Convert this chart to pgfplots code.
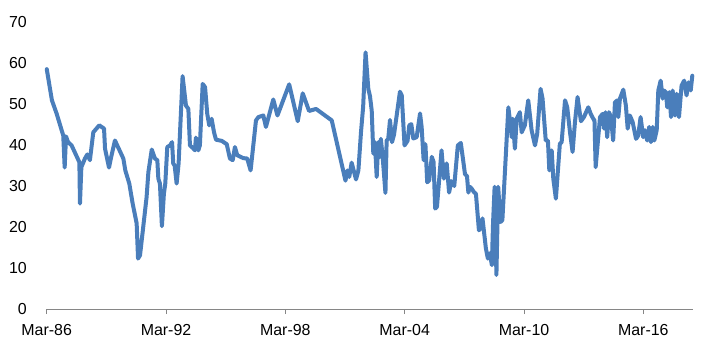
\documentclass[border=0pt]{standalone}
\usepackage{pgfplots}
\pgfplotsset{compat=1.18}
\usepackage{fontspec}
\setmainfont{Liberation Sans}
\definecolor{lineblue}{RGB}{74,126,187}
\definecolor{axgray}{RGB}{134,134,134}
\begin{document}
\begin{tikzpicture}
\begin{axis}[
  scale only axis,
  width=646.6bp, height=287bp,
  xmin=1986.167, xmax=2018.68,
  ymin=0, ymax=70,
  axis lines*=left,
  axis line style={-},
  x axis line style={axgray, line width=1bp},
  y axis line style={draw=none},
  ytick={0,10,...,70},
  xtick={1986.167,1992.167,1998.167,2004.167,2010.167,2016.167},
  xticklabels={Mar-86,Mar-92,Mar-98,Mar-04,Mar-10,Mar-16},
  ytick style={draw=none},
  xtick style={axgray, line width=1bp},
  tick align=outside,
  major tick length=5bp,
  /pgf/number format/assume math mode=true,
  tick label style={font=\fontsize{16}{19}\selectfont, text=black},
  y tick label style={inner sep=0pt, xshift=-14.7bp},
  x tick label style={inner sep=0pt, yshift=-10bp},
  clip=false,
]
\addplot[lineblue, line width=4bp, line join=round, line cap=round] coordinates {
(1986.17,58.5)(1986.43,50.9)(1986.67,47.6)(1987.00,42.3)(1987.07,34.5)(1987.14,42.1)
(1987.24,40.7)(1987.42,39.9)(1987.81,35.8)(1987.84,25.7)(1987.91,34.6)(1988.09,36.7)
(1988.21,37.7)(1988.34,36.3)(1988.51,43.1)(1988.81,44.8)(1989.05,44.0)(1989.10,39.1)
(1989.30,34.5)(1989.41,37.1)(1989.60,41.1)(1990.02,36.7)(1990.12,33.8)(1990.32,30.6)
(1990.49,25.7)(1990.69,20.9)(1990.76,12.3)(1990.86,13.1)(1991.19,27.3)(1991.28,33.4)
(1991.45,38.9)(1991.61,36.7)(1991.73,36.3)(1991.78,31.8)(1991.86,30.6)(1991.96,20.2)
(1992.06,28.1)(1992.13,30.6)(1992.23,39.5)(1992.37,39.9)(1992.47,40.7)(1992.53,35.5)
(1992.60,35.0)(1992.70,30.6)(1992.80,35.5)(1993.00,56.8)(1993.17,49.6)(1993.29,48.8)
(1993.37,39.9)(1993.51,39.3)(1993.62,38.7)(1993.67,41.8)(1993.79,38.7)(1993.87,39.9)
(1994.01,54.9)(1994.13,54.1)(1994.24,47.6)(1994.34,44.8)(1994.46,46.4)(1994.58,43.1)
(1994.68,41.3)(1994.97,41.0)(1995.22,40.2)(1995.38,36.7)(1995.52,36.3)(1995.63,39.5)
(1995.75,37.5)(1996.05,36.8)(1996.25,36.7)(1996.42,33.8)(1996.69,46.0)(1996.81,46.8)
(1997.06,47.2)(1997.19,44.4)(1997.56,51.1)(1997.77,47.2)(1998.36,54.8)(1998.79,45.8)
(1999.04,52.6)(1999.36,48.3)(1999.71,48.8)(2000.50,46.0)(2001.19,31.3)(2001.29,33.8)
(2001.38,32.2)(2001.50,35.7)(2001.72,31.6)(2001.84,33.8)(2001.97,43.1)(2002.08,49.4)
(2002.20,62.6)(2002.34,53.6)(2002.42,52.0)(2002.51,48.4)(2002.59,37.9)(2002.67,40.7)
(2002.76,32.2)(2002.84,40.7)(2002.92,37.1)(2002.97,41.5)(2003.06,37.1)(2003.20,28.3)
(2003.26,41.1)(2003.34,41.5)(2003.43,46.1)(2003.53,40.7)(2003.63,42.5)(2003.93,53.0)
(2004.02,52.1)(2004.16,39.9)(2004.31,41.0)(2004.40,44.8)(2004.50,45.1)(2004.60,41.6)
(2004.77,41.9)(2004.94,47.7)(2005.02,44.4)(2005.12,36.3)(2005.21,40.2)(2005.30,30.9)
(2005.40,31.4)(2005.53,37.1)(2005.62,35.9)(2005.70,24.5)(2005.79,24.9)(2006.02,38.7)
(2006.14,31.8)(2006.28,35.5)(2006.40,28.4)(2006.51,31.2)(2006.66,30.0)(2006.84,39.9)
(2006.99,40.5)(2007.20,32.9)(2007.30,32.4)(2007.37,28.4)(2007.45,29.8)(2007.53,29.4)
(2007.65,28.5)(2007.75,28.1)(2007.90,19.2)(2008.00,19.8)(2008.08,22.1)(2008.25,14.8)
(2008.35,12.3)(2008.45,13.6)(2008.55,10.7)(2008.61,20.9)(2008.69,29.8)(2008.78,8.3)
(2008.87,29.8)(2008.98,21.2)(2009.08,21.7)(2009.38,49.2)(2009.46,46.0)(2009.55,41.9)
(2009.60,46.4)(2009.71,39.1)(2009.80,46.4)(2009.96,48.0)(2010.05,43.1)(2010.21,44.8)
(2010.38,50.9)(2010.55,43.6)(2010.72,39.9)(2010.83,42.7)(2011.00,53.7)(2011.10,51.3)
(2011.26,41.1)(2011.37,41.1)(2011.44,33.8)(2011.56,38.7)(2011.64,31.8)(2011.77,26.9)
(2011.97,40.3)(2012.06,40.7)(2012.23,50.9)(2012.34,49.2)(2012.48,43.1)(2012.61,38.3)
(2012.73,45.6)(2012.86,51.7)(2013.03,45.8)(2013.18,46.8)(2013.40,49.2)(2013.52,47.6)
(2013.65,46.4)(2013.71,46.0)(2013.77,34.6)(2013.90,41.9)(2013.99,46.8)(2014.12,47.6)
(2014.19,44.0)(2014.27,48.0)(2014.35,41.9)(2014.44,48.0)(2014.54,46.8)(2014.65,41.1)
(2014.74,50.4)(2014.86,50.9)(2014.91,46.8)(2014.99,51.3)(2015.16,53.5)(2015.29,49.6)
(2015.38,44.0)(2015.49,47.2)(2015.63,45.6)(2015.80,41.5)(2015.91,42.3)(2016.03,46.8)
(2016.16,41.9)(2016.25,43.6)(2016.36,41.1)(2016.46,44.4)(2016.55,40.7)(2016.64,44.4)
(2016.72,41.1)(2016.84,43.6)(2016.92,53.3)(2017.04,55.7)(2017.14,51.3)(2017.20,53.3)
(2017.30,52.9)(2017.37,49.2)(2017.47,52.9)(2017.56,46.8)(2017.64,53.3)(2017.76,47.2)
(2017.84,52.5)(2017.96,46.8)(2018.09,54.5)(2018.22,55.7)(2018.34,52.1)(2018.44,55.3)
(2018.55,53.3)(2018.63,56.9)
};
\end{axis}
\pgfresetboundingbox
\useasboundingbox (-46.7bp,-43bp) rectangle (669.3bp,309bp);
\end{tikzpicture}
\end{document}
